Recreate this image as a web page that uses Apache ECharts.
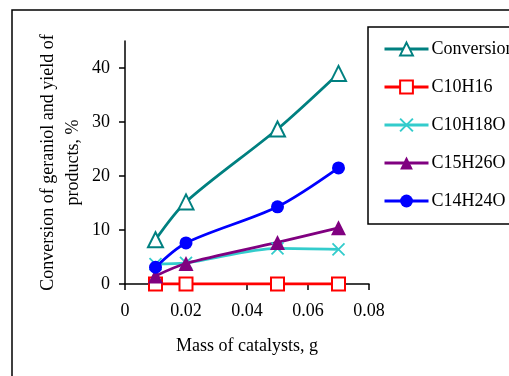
<!DOCTYPE html>
<html>
<head>
<meta charset="utf-8">
<script src="https://cdn.jsdelivr.net/npm/echarts@6/dist/echarts.min.js"></script>
<style>
  html, body { margin: 0; padding: 0; background: #fff; }
  #chart { width: 509px; height: 376px; }
</style>
</head>
<body>
<div id="chart"></div>
<script>
// Catalyst mass (g) and measured conversion / product yields (%)
const catalystMass = [0.01, 0.02, 0.05, 0.07];
const conversion = [8.2, 15.2, 28.7, 39.0];
const c10h16 = [0, 0, 0, 0];
const c10h18o = [3.7, 3.9, 6.6, 6.4];
const c15h26o = [1.5, 3.8, 7.7, 10.4];
const c14h24o = [3.1, 7.6, 14.3, 21.5];

const xTicks = [0, 0.02, 0.04, 0.06, 0.08];
const yTicks = [0, 10, 20, 30, 40];

const FONT = '"Liberation Serif", "DejaVu Serif", serif';

const pairs = (ys) => catalystMass.map((x, i) => [x, ys[i]]);

const crossPath = 'path://M0,0L10,10M10,0L0,10';

function lineSeries(name, ys, color, symbol, symbolSize, itemStyle) {
  return {
    name: name,
    type: 'line',
    data: pairs(ys),
    smooth: 0.3,
    symbol: symbol,
    symbolSize: symbolSize,
    showAllSymbol: true,
    lineStyle: { color: color, width: 2.8 },
    itemStyle: Object.assign({ color: color }, itemStyle || {}),
    emphasis: { disabled: true },
    z: 3
  };
}

const chart = echarts.init(document.getElementById('chart'), null, { renderer: 'canvas' });

chart.setOption({
  backgroundColor: '#fff',
  animation: false,
  textStyle: { fontFamily: FONT, color: '#000' },
  grid: { left: 125, top: 41, width: 244, height: 243, containLabel: false },
  xAxis: {
    type: 'value',
    min: xTicks[0],
    max: xTicks[xTicks.length - 1],
    interval: 0.02,
    name: 'Mass of catalysts, g',
    nameLocation: 'middle',
    nameGap: 53,
    nameTextStyle: { fontFamily: FONT, fontSize: 18, color: '#000' },
    axisLine: { lineStyle: { color: '#000', width: 1.5 } },
    axisTick: { show: true, inside: false, length: 6, lineStyle: { color: '#000', width: 1.5 } },
    axisLabel: {
      fontFamily: FONT, fontSize: 18, color: '#000', margin: 18,
      formatter: (v) => (v === 0 ? '0' : String(+v.toFixed(2)))
    },
    splitLine: { show: false }
  },
  yAxis: {
    type: 'value',
    min: 0,
    max: 45,
    interval: 10,
    name: 'Conversion of geraniol and yield of\nproducts, %',
    nameLocation: 'middle',
    nameGap: 39,
    nameRotate: 90,
    nameTextStyle: { fontFamily: FONT, fontSize: 18, color: '#000', lineHeight: 25 },
    axisLine: { lineStyle: { color: '#000', width: 1.5 } },
    axisTick: { show: true, inside: false, length: 6, lineStyle: { color: '#000', width: 1.5 } },
    axisLabel: {
      fontFamily: FONT, fontSize: 18, color: '#000', margin: 15,
      showMaxLabel: false,
      formatter: (v) => (yTicks.indexOf(v) >= 0 ? String(v) : '')
    },
    splitLine: { show: false }
  },
  legend: {
    orient: 'vertical',
    left: 378,
    top: 35,
    itemWidth: 44,
    itemHeight: 16,
    itemGap: 20,
    lineStyle: { width: 3 },
    textStyle: { fontFamily: FONT, fontSize: 18, color: '#000', padding: [0, 0, 0, -2] },
    data: ['Conversion', 'C10H16', 'C10H18O', 'C15H26O', 'C14H24O']
  },
  graphic: [
    {
      type: 'rect',
      shape: { x: 12, y: 10, width: 600, height: 500 },
      style: { fill: 'none', stroke: '#000', lineWidth: 1.5 },
      silent: true
    },
    {
      type: 'rect',
      shape: { x: 368, y: 27, width: 300, height: 197 },
      style: { fill: 'none', stroke: '#000', lineWidth: 1.5 },
      silent: true
    }
  ],
  series: [
    lineSeries('Conversion', conversion, '#008080', 'emptyTriangle', 15,
      { borderColor: '#008080', borderWidth: 1.5 }),
    lineSeries('C10H16', c10h16, '#FF0000', 'emptyRect', 13,
      { borderColor: '#FF0000', borderWidth: 1.5 }),
    lineSeries('C10H18O', c10h18o, '#33CCCC', crossPath, 12,
      { color: 'none', borderColor: '#33CCCC', borderWidth: 1.8 }),
    lineSeries('C15H26O', c15h26o, '#800080', 'triangle', 15),
    lineSeries('C14H24O', c14h24o, '#0000FF', 'circle', 13)
  ]
});
</script>
</body>
</html>
